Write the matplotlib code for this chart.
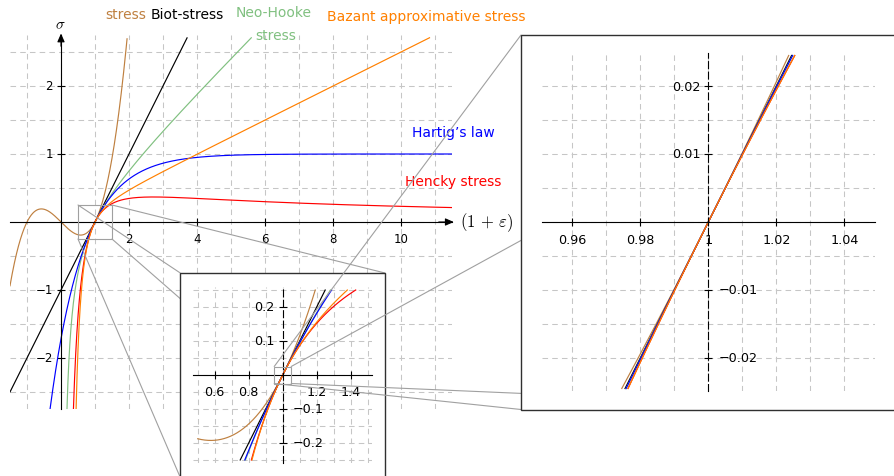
import numpy as np
import matplotlib
matplotlib.use("Agg")
import matplotlib.pyplot as plt
from matplotlib.patches import Rectangle, ConnectionPatch
from matplotlib.ticker import MultipleLocator
from matplotlib.transforms import ScaledTranslation

W, H, DPI = 894, 477, 100

plt.rcParams["font.family"] = ["DejaVu Sans"]
plt.rcParams["mathtext.fontset"] = "cm"
plt.rcParams["lines.scale_dashes"] = False


# ---- uniaxial stress-stretch laws, lam = 1 + eps, stress in units of E ----
def st_venant(lam):
    return lam * (lam ** 2 - 1) / 2


def biot(lam):
    return lam - 1


def neo_hooke(lam):
    return (lam - 1 / lam) / 2


def hartig(lam):
    return 1 - np.exp(1 - lam)


def hencky(lam):
    return np.log(lam) / lam


def bazant(lam):
    return (lam - lam ** -3) / 4


curve_laws = [st_venant, biot, neo_hooke, hartig, hencky, bazant]
curve_colors = ["#bf8040", "#000000", "#80c080", "#0000ff", "#ff0000", "#ff8000"]
# laws with a singularity at lam = 0 are only drawn for lam > 0
curve_positive_only = [False, False, True, False, True, True]

# plotted windows: (lam range, stress range kept)
main_lam = (-1.5, 11.5)
main_cap = (-2.75, 2.71)
zoom1_lam = (0.5, 1.5)
zoom1_cap = (-0.25, 0.25)
zoom2_lam = (0.95, 1.05)
zoom2_cap = (-0.0245, 0.0245)

# tick values and labels
main_xticks = [2, 4, 6, 8, 10]
main_xticklabels = ["2", "4", "6", "8", "10"]
main_yticks = [-2, -1, 1, 2]
main_yticklabels = ["\u22122", "\u22121", "1", "2"]
zoom1_xticks = [0.6, 0.8, 1.2, 1.4]
zoom1_xticklabels = ["0.6", "0.8", "1.2", "1.4"]
zoom1_yticks = [-0.2, -0.1, 0.1, 0.2]
zoom1_yticklabels = ["\u22120.2", "\u22120.1", "0.1", "0.2"]
zoom2_xticks = [0.96, 0.98, 1.0, 1.02, 1.04]
zoom2_xticklabels = ["0.96", "0.98", "1", "1.02", "1.04"]
zoom2_yticks = [-0.02, -0.01, 0.01, 0.02]
zoom2_yticklabels = ["\u22120.02", "\u22120.01", "0.01", "0.02"]

GRID = "#c6c6c6"
GRAY = "#a0a0a0"
DASH = (0, (4.0, 3.0))

fig = plt.figure(figsize=(W / DPI, H / DPI), dpi=DPI)


def px_axes(x0, y0, x1, y1, z):
    ax = fig.add_axes([x0 / W, 1 - y1 / H, (x1 - x0) / W, (y1 - y0) / H], zorder=z)
    ax.patch.set_visible(False)
    return ax


def off(dx, dy):
    return ScaledTranslation(dx / DPI, -dy / DPI, fig.dpi_scale_trans)


def sample(law, lam_rng, cap, positive_only):
    lo, hi = lam_rng
    if positive_only:
        lo = max(lo, 1e-3)
    lam = np.linspace(lo, hi, 4000)
    with np.errstate(all="ignore"):
        s = law(lam)
    s = np.where((s < cap[0]) | (s > cap[1]), np.nan, s)
    return lam, s


def style(ax, xlim, ylim, yaxis_x, xstep, ystep, xticks, xlabels, yticks, ylabels,
          fs, neg_right, dashed_y):
    ax.set_xlim(*xlim)
    ax.set_ylim(*ylim)
    for sp in ("top", "right"):
        ax.spines[sp].set_visible(False)
    ax.spines["bottom"].set_position(("data", 0))
    ax.spines["left"].set_position(("data", yaxis_x))
    for sp in ("bottom", "left"):
        ax.spines[sp].set_linewidth(0.8)
    if dashed_y:
        ax.spines["left"].set_linestyle((0, (5.0, 2.5)))
    ax.set_xticks(xticks)
    ax.set_yticks(yticks)
    ax.xaxis.set_minor_locator(MultipleLocator(xstep))
    ax.yaxis.set_minor_locator(MultipleLocator(ystep))
    ax.tick_params(which="major", direction="inout", length=6, width=0.8,
                   labelbottom=False, labelleft=False)
    ax.tick_params(which="minor", length=0)
    ax.set_axisbelow(True)
    ax.grid(which="both", color=GRID, lw=0.75, ls=DASH)
    for x, lab in zip(xticks, xlabels):
        ax.text(x, 0, lab, transform=ax.transData + off(0, 17), ha="center",
                va="center", fontsize=fs)
    for y, lab in zip(yticks, ylabels):
        if y < 0 and neg_right:
            ax.text(yaxis_x, y, lab, transform=ax.transData + off(10, 0),
                    ha="left", va="center", fontsize=fs)
        else:
            ax.text(yaxis_x, y, lab, transform=ax.transData + off(-8, 0),
                    ha="right", va="center", fontsize=fs)


def draw_curves(ax, lam_rng, cap):
    for law, col, pos in zip(curve_laws, curve_colors, curve_positive_only):
        lam, s = sample(law, lam_rng, cap, pos)
        ax.plot(lam, s, color=col, lw=0.85)


# ---------------- main plot ----------------
ax = px_axes(10, 36, 452, 410, 0)
style(ax, (-1.5, 11.5), (-2.75, 2.75), 0, 1, 0.5, main_xticks, main_xticklabels,
      main_yticks, main_yticklabels, 8.5, False, False)
draw_curves(ax, main_lam, main_cap)
arrow_kw = dict(arrowstyle="-|>,head_length=0.5,head_width=0.22",
                color="k", lw=0.8, shrinkA=0, shrinkB=0)
ax.annotate("", xy=(1.004, 0), xycoords=("axes fraction", "data"),
            xytext=(0.97, 0), textcoords=("axes fraction", "data"),
            arrowprops=arrow_kw, annotation_clip=False)
ax.annotate("", xy=(0, 1.004), xycoords=("data", "axes fraction"),
            xytext=(0, 0.97), textcoords=("data", "axes fraction"),
            arrowprops=arrow_kw, annotation_clip=False)
ax.text(12.52, 0, r"$(1\,+\,\varepsilon)$", fontsize=12, ha="center", va="center")
ax.text(-0.03, 2.91, r"$\sigma$", fontsize=11, ha="center", va="center")

lab_kw = dict(fontsize=10, ha="center", va="center")
ax.text(1.91, 3.06, "stress", color=curve_colors[0], **lab_kw)
ax.text(3.71, 3.06, "Biot-stress", color=curve_colors[1], **lab_kw)
ax.text(6.26, 3.09, "Neo-Hooke", color=curve_colors[2], **lab_kw)
ax.text(6.32, 2.75, "stress", color=curve_colors[2], **lab_kw)
ax.text(10.73, 3.03, "Bazant approximative stress", color=curve_colors[5], **lab_kw)
ax.text(11.53, 1.33, "Hartig\u2019s law", color=curve_colors[3], **lab_kw)
ax.text(11.53, 0.61, "Hencky stress", color=curve_colors[4], **lab_kw)

ax.add_patch(Rectangle((zoom1_lam[0], zoom1_cap[0]), zoom1_lam[1] - zoom1_lam[0],
                       zoom1_cap[1] - zoom1_cap[0], fill=False, ec=GRAY, lw=0.8,
                       zorder=3))

# ---------------- first magnification ----------------
box1 = (180.3, 274, 385, 478.5)
c1, k1, h1 = (282.7, 376), (170, 340), (0.525, 0.2575)
ax1 = px_axes(c1[0] - k1[0] * h1[0], c1[1] - k1[1] * h1[1],
              c1[0] + k1[0] * h1[0], c1[1] + k1[1] * h1[1], 3)
style(ax1, (1 - h1[0], 1 + h1[0]), (-h1[1], h1[1]), 1.0, 0.1, 0.05, zoom1_xticks,
      zoom1_xticklabels, zoom1_yticks, zoom1_yticklabels, 9.2, True, True)
draw_curves(ax1, zoom1_lam, zoom1_cap)
ax1.add_patch(Rectangle((zoom2_lam[0], -0.025), zoom2_lam[1] - zoom2_lam[0], 0.05,
                        fill=False, ec=GRAY, lw=0.8, zorder=3))

# ---------------- second magnification ----------------
box2 = (521, 36, 895.5, 410.5)
c2, k2, h2 = (708.3, 223), (3400, 6800), (0.049, 0.0248)
ax2 = px_axes(c2[0] - k2[0] * h2[0], c2[1] - k2[1] * h2[1],
              c2[0] + k2[0] * h2[0], c2[1] + k2[1] * h2[1], 6)
style(ax2, (1 - h2[0], 1 + h2[0]), (-h2[1], h2[1]), 1.0, 0.01, 0.005, zoom2_xticks,
      zoom2_xticklabels, zoom2_yticks, zoom2_yticklabels, 9.2, True, True)
draw_curves(ax2, zoom2_lam, zoom2_cap)


def add_box(b, z):
    x0, y0, x1, y1 = b
    fig.add_artist(Rectangle((x0 / W, 1 - y1 / H), (x1 - x0) / W, (y1 - y0) / H,
                             transform=fig.transFigure, fc="white", ec="#303030",
                             lw=1.0, zorder=z))


def connect(src_ax, xr, yr, b, z):
    x0, y0, x1, y1 = b
    src = [(xr[0], yr[1]), (xr[1], yr[1]), (xr[1], yr[0]), (xr[0], yr[0])]
    dst = [(x0, y0), (x1, y0), (x1, y1), (x0, y1)]
    for (sx, sy), (dx, dy) in zip(src, dst):
        cp = ConnectionPatch(xyA=(sx, sy), coordsA=src_ax.transData,
                             xyB=(dx / W, 1 - dy / H), coordsB=fig.transFigure,
                             color=GRAY, lw=0.8, zorder=z)
        fig.add_artist(cp)


connect(ax, zoom1_lam, zoom1_cap, box1, 1)
add_box(box1, 2)
connect(ax1, zoom2_lam, (-0.025, 0.025), box2, 4)
add_box(box2, 5)

fig.savefig("out.png", dpi=DPI)
